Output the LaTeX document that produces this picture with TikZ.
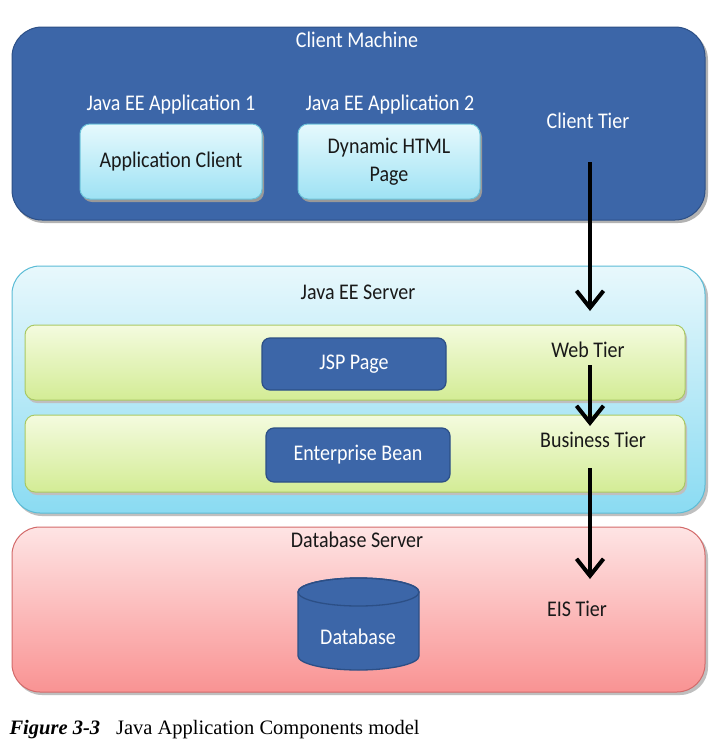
\documentclass[tikz,border=0pt]{standalone}
\usepackage{fontspec}
\usepackage{graphicx}
\setmainfont{Carlito}
\newfontfamily\capfont{Liberation Serif}
\usetikzlibrary{arrows.meta,calc}
\newcommand{\tallt}[1]{\scalebox{1}[1.12]{#1}}
\definecolor{dblue}{HTML}{3C66A8}
\definecolor{dblueb}{HTML}{2C4F86}
\definecolor{cyantop}{HTML}{E6F9FD}
\definecolor{cyanbot}{HTML}{9EE2F4}
\definecolor{cyanb}{HTML}{6CC3DA}
\definecolor{srvtop}{HTML}{E8F8FC}
\definecolor{srvbot}{HTML}{8ADBF2}
\definecolor{srvb}{HTML}{5BBCD6}
\definecolor{grtop}{HTML}{F4FBDF}
\definecolor{grbot}{HTML}{D3EC95}
\definecolor{grb}{HTML}{A9C964}
\definecolor{pktop}{HTML}{FEE4E4}
\definecolor{pkbot}{HTML}{F99393}
\definecolor{pkb}{HTML}{D36A6A}
\tikzset{
  outer/.style={rounded corners=30pt, line width=1pt},
  dbox/.style={draw=dblueb, fill=dblue, rounded corners=8pt, line width=1.2pt, text=white, font=\fontsize{20}{22}\selectfont, align=center},
  cbox/.style={draw=cyanb, top color=cyantop, bottom color=cyanbot, rounded corners=10pt, line width=1pt, font=\fontsize{20}{25}\selectfont, align=center, text=black!90},
  strip/.style={draw=grb, top color=grtop, bottom color=grbot, rounded corners=10pt, line width=1pt},
  wlabel/.style={text=white, font=\fontsize{20}{22}\selectfont},
  blabel/.style={text=black!90, font=\fontsize{20}{22}\selectfont},
  tierarrow/.style={line width=4pt, -{Straight Barb[length=17pt, width=27pt, line width=4pt]}},
}
\begin{document}
\begin{tikzpicture}[x=1pt, y=-1pt]
\useasboundingbox (0,0) rectangle (718,748);
\fill[white] (0,0) rectangle (718,748);
% Client machine
\fill[black!30, rounded corners=30pt] (14,30) rectangle (708,223);
\node[outer, draw=dblueb, fill=dblue, minimum width=693pt, minimum height=193pt, inner sep=0pt] (client) at (358.5,123.5) {};
\node[wlabel] (clientlbl) at (357,40) {\tallt{Client Machine}};
\node[wlabel] (app1lbl) at (171,105) {\tallt{Java EE Application 1}};
\node[wlabel] (app2lbl) at (390,105) {\tallt{Java EE Application 2}};
\node[wlabel] (clienttier) at (588,121) {\tallt{Client Tier}};
\fill[black!40, rounded corners=10pt] (82,127) rectangle (264,202);
\fill[black!40, rounded corners=10pt] (300,127) rectangle (482,202);
\node[cbox, minimum width=182pt, minimum height=75pt] (appclient) at (171,161.5) {\tallt{Application Client}};
\node[cbox, minimum width=182pt, minimum height=75pt] (dhtml) at (389,161.5) {\tallt{\begin{tabular}{@{}c@{}}Dynamic HTML\\Page\end{tabular}}};
% Java EE Server
\fill[black!25, rounded corners=28pt] (14,269) rectangle (708,516);
\node[outer, rounded corners=28pt, draw=srvb, top color=srvtop, bottom color=srvbot, minimum width=693pt, minimum height=247pt, inner sep=0pt] (server) at (358.5,389.5) {};
\node[blabel] (serverlbl) at (358,292) {\tallt{Java EE Server}};
\fill[black!25, rounded corners=10pt] (27,328) rectangle (687,403);
\node[strip, minimum width=660pt, minimum height=75pt, inner sep=0pt] (webstrip) at (355,362.5) {};
\fill[black!25, rounded corners=10pt] (27,418) rectangle (687,495);
\node[strip, minimum width=660pt, minimum height=77pt, inner sep=0pt] (busstrip) at (355,453.5) {};
\node[dbox, minimum width=184pt, minimum height=52pt] (jsp) at (354,364) {\tallt{JSP Page}};
\node[dbox, minimum width=184pt, minimum height=54pt] (ejb) at (358,455) {\tallt{Enterprise Bean}};
\node[blabel] (webtier) at (588,350) {\tallt{Web Tier}};
\node[blabel] (bustier) at (593,440) {\tallt{Business Tier}};
% Database server
\fill[black!25, rounded corners=28pt] (14,530) rectangle (708,695);
\node[outer, rounded corners=28pt, draw=pkb, top color=pktop, bottom color=pkbot, minimum width=693pt, minimum height=165pt, inner sep=0pt] (dbserver) at (358.5,609.5) {};
\node[blabel] (dbserverlbl) at (357,540) {\tallt{Database Server}};
% database cylinder
\filldraw[fill=dblue, draw=dblueb, line width=1.3pt]
  (298,592) -- (298,656) arc[start angle=180, end angle=0, x radius=60.5, y radius=14]
  -- (419,592) arc[start angle=0, end angle=-180, x radius=60.5, y radius=14] -- cycle;
\draw[dblueb, line width=1.3pt] (358.5,592) ellipse [x radius=60.5, y radius=14];
\node[text=white, font=\fontsize{20}{22}\selectfont] (db) at (358,637) {\tallt{Database}};
\node[blabel] (eistier) at (577,609) {\tallt{EIS Tier}};
% arrows
\coordinate (a1s) at (590,162);
\coordinate (a1e) at (590,311);
\coordinate (a2s) at (590,365);
\coordinate (a2e) at (590,426);
\coordinate (a3s) at (590,468);
\coordinate (a3e) at (590,579);
\draw[tierarrow] (a1s) -- (a1e);
\draw[tierarrow] (a2s) -- (a2e);
\draw[tierarrow] (a3s) -- (a3e);
% caption
\node[anchor=west, font=\capfont\fontsize{20.5}{22}\selectfont] (caption) at (6,730) {\textbf{\textit{Figure 3-3}}\hspace{16pt}Java Application Components model};
\end{tikzpicture}
\end{document}
